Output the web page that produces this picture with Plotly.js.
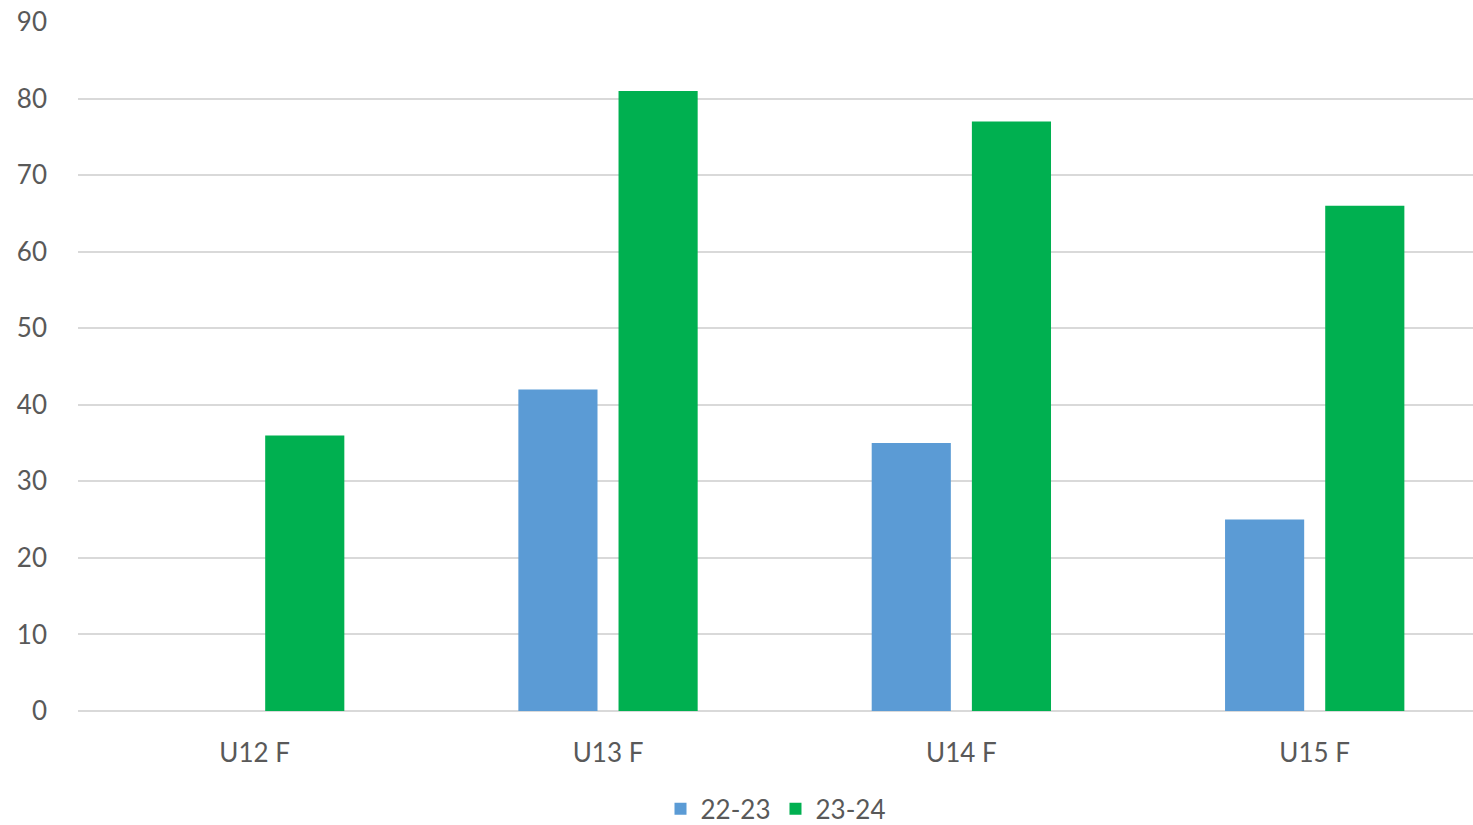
<!DOCTYPE html>
<html>
<head>
<meta charset="utf-8">
<script src="https://cdn.plot.ly/plotly-3.0.1.min.js"></script>
<style>html,body{margin:0;padding:0;background:#fff;}#chart{width:1473px;height:825px;}</style>
</head>
<body>
<div id="chart"></div>
<script>
const categories = ["U12 F", "U13 F", "U14 F", "U15 F"];
const series2223 = [null, 42, 35, 25];
const series2324 = [36, 81, 77, 66];
const seriesNames = ["22-23", "23-24"];
const yTicks = [0, 10, 20, 30, 40, 50, 60, 70, 80, 90];

const font = {family: "Lato, 'Open Sans', sans-serif", size: 26, color: "#595959"};

const data = [
  {type: "bar", name: seriesNames[0], x: categories, y: series2223, marker: {color: "#5B9BD5"}},
  {type: "bar", name: seriesNames[1], x: categories, y: series2324, marker: {color: "#00B050"}}
];

const layout = {
  width: 1473, height: 825,
  margin: {l: 78, r: 0, t: 22, b: 114, autoexpand: false},
  paper_bgcolor: "#fff", plot_bgcolor: "#fff",
  font: font,
  barmode: "group",
  bargap: 0.433,
  bargroupgap: 0.21,
  showlegend: true,
  legend: {orientation: "h", x: 0.5, xanchor: "center", y: -0.108, yanchor: "top", font: font, itemwidth: 30, tracegroupgap: 0},
  xaxis: {
    type: "category",
    range: [-0.5, 3.448],
    showgrid: false, zeroline: false,
    showline: false,
    ticks: "", ticklabelstandoff: 24,
    tickfont: font, fixedrange: true
  },
  yaxis: {
    range: [0, 90],
    tickvals: yTicks,
    showgrid: true, gridcolor: "#d9d9d9", gridwidth: 2,
    zeroline: true, zerolinecolor: "#d9d9d9", zerolinewidth: 2,
    showline: false, ticks: "", ticklabelstandoff: 30,
    tickfont: font, fixedrange: true
  }
};

Plotly.newPlot("chart", data, layout, {staticPlot: true, displayModeBar: false});
</script>
</body>
</html>
